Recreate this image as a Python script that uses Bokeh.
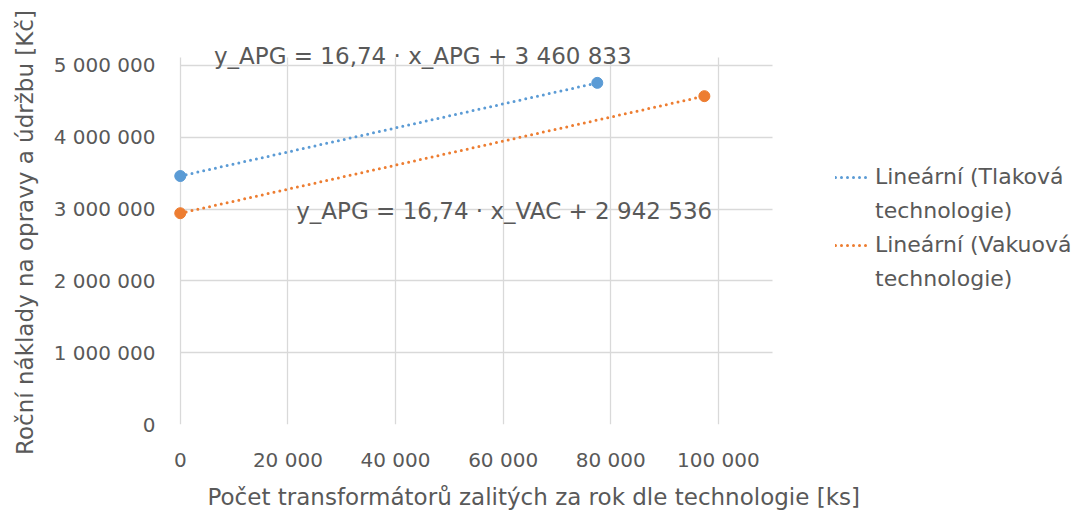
from bokeh.plotting import figure
from bokeh.models import Range1d, Label, Legend, LegendItem, Title
from bokeh.embed import file_html
from bokeh.resources import INLINE

# ---- data ----
x_apg = [0, 77500]
y_apg = [3460833, 4758000]
x_vac = [0, 97400]
y_vac = [2942536, 4573000]
series_lines = [["Lineární (Tlaková", "technologie)"], ["Lineární (Vakuová", "technologie)"]]
eq_texts = ["y_APG = 16,74 · x_APG + 3 460 833", "y_APG = 16,74 · x_VAC + 2 942 536"]
x_ticks = [0, 20000, 40000, 60000, 80000, 100000]
x_tick_labels = ["0", "20 000", "40 000", "60 000", "80 000", "100 000"]
y_ticks = [0, 1000000, 2000000, 3000000, 4000000, 5000000]
y_tick_labels = ["0", "1 000 000", "2 000 000", "3 000 000", "4 000 000", "5 000 000"]
x_axis_max = 110000
y_axis_max = 5110000
x_title = "Počet transformátorů zalitých za rok dle technologie [ks]"
y_title = "Roční náklady na opravy a údržbu [Kč]"

FONT = "DejaVu Sans"
TXT = "#595959"
GRID = "#D9D9D9"
BLUE = "#5B9BD5"
ORANGE = "#ED7D31"

p = figure(width=1087, height=520, x_range=Range1d(-2000, 168600), y_range=Range1d(0, 5348000),
           output_backend="svg", toolbar_location=None, title=None,
           min_border_left=169, min_border_right=0, min_border_top=40, min_border_bottom=96)
p.outline_line_color = None
p.background_fill_color = "white"
p.border_fill_color = "white"

for ax in (p.xaxis, p.yaxis):
    ax.axis_line_color = None
    ax.major_tick_line_color = None
    ax.minor_tick_line_color = None
    ax.major_tick_out = 0
    ax.major_tick_in = 0
    ax.minor_tick_out = 0
    ax.major_label_text_font = FONT
    ax.major_label_text_font_size = "20px"
    ax.major_label_text_color = TXT
    ax.axis_label_text_font = FONT
    ax.axis_label_text_font_size = "23px"
    ax.axis_label_text_font_style = "normal"
    ax.axis_label_text_color = TXT

p.xaxis.ticker = x_ticks
p.xaxis.major_label_overrides = dict(zip(x_ticks, x_tick_labels))
p.yaxis.ticker = y_ticks
p.yaxis.major_label_overrides = dict(zip(y_ticks, y_tick_labels))
p.xaxis.major_label_standoff = 23
p.yaxis.major_label_standoff = 14
p.yaxis.axis_label = y_title
p.yaxis.axis_label_standoff = 13

xt = Title(text=x_title, align="left", offset=38, text_font=FONT, text_font_size="23px",
           text_font_style="normal", text_color=TXT, standoff=14, vertical_align="bottom")
p.add_layout(xt, "below")

p.xgrid.grid_line_color = GRID
p.ygrid.grid_line_color = GRID
p.xgrid.ticker = x_ticks
p.ygrid.ticker = y_ticks
p.xgrid.cross_bounds = (0, y_axis_max)
p.ygrid.cross_bounds = (0, x_axis_max)
p.xgrid.grid_line_width = 1.3
p.ygrid.grid_line_width = 1.3

r1 = p.line(x_apg, y_apg, line_color=BLUE, line_width=3, line_dash="0 6", line_cap="round")
r2 = p.line(x_vac, y_vac, line_color=ORANGE, line_width=3, line_dash="0 6", line_cap="round")
p.scatter(x_apg, y_apg, size=11, color=BLUE)
p.scatter(x_vac, y_vac, size=11, color=ORANGE)

p.add_layout(Label(x=45070, y=5139000, text=eq_texts[0], text_align="center", text_baseline="middle",
                   text_font=FONT, text_font_size="23px", text_color=TXT))
p.add_layout(Label(x=60200, y=2980000, text=eq_texts[1], text_align="center", text_baseline="middle",
                   text_font=FONT, text_font_size="23px", text_color=TXT))

legend = Legend(items=[LegendItem(label=series_lines[0][0], renderers=[r1]),
                       LegendItem(label=series_lines[0][1], renderers=[]),
                       LegendItem(label=series_lines[1][0], renderers=[r2]),
                       LegendItem(label=series_lines[1][1], renderers=[])],
                location=(666, 133), padding=0, margin=0, spacing=9,
                glyph_width=33, label_standoff=7,
                label_text_font=FONT, label_text_font_size="22px", label_text_color=TXT,
                border_line_color=None, background_fill_alpha=0)
p.add_layout(legend)

open("out.html", "w").write(file_html(p, INLINE))
